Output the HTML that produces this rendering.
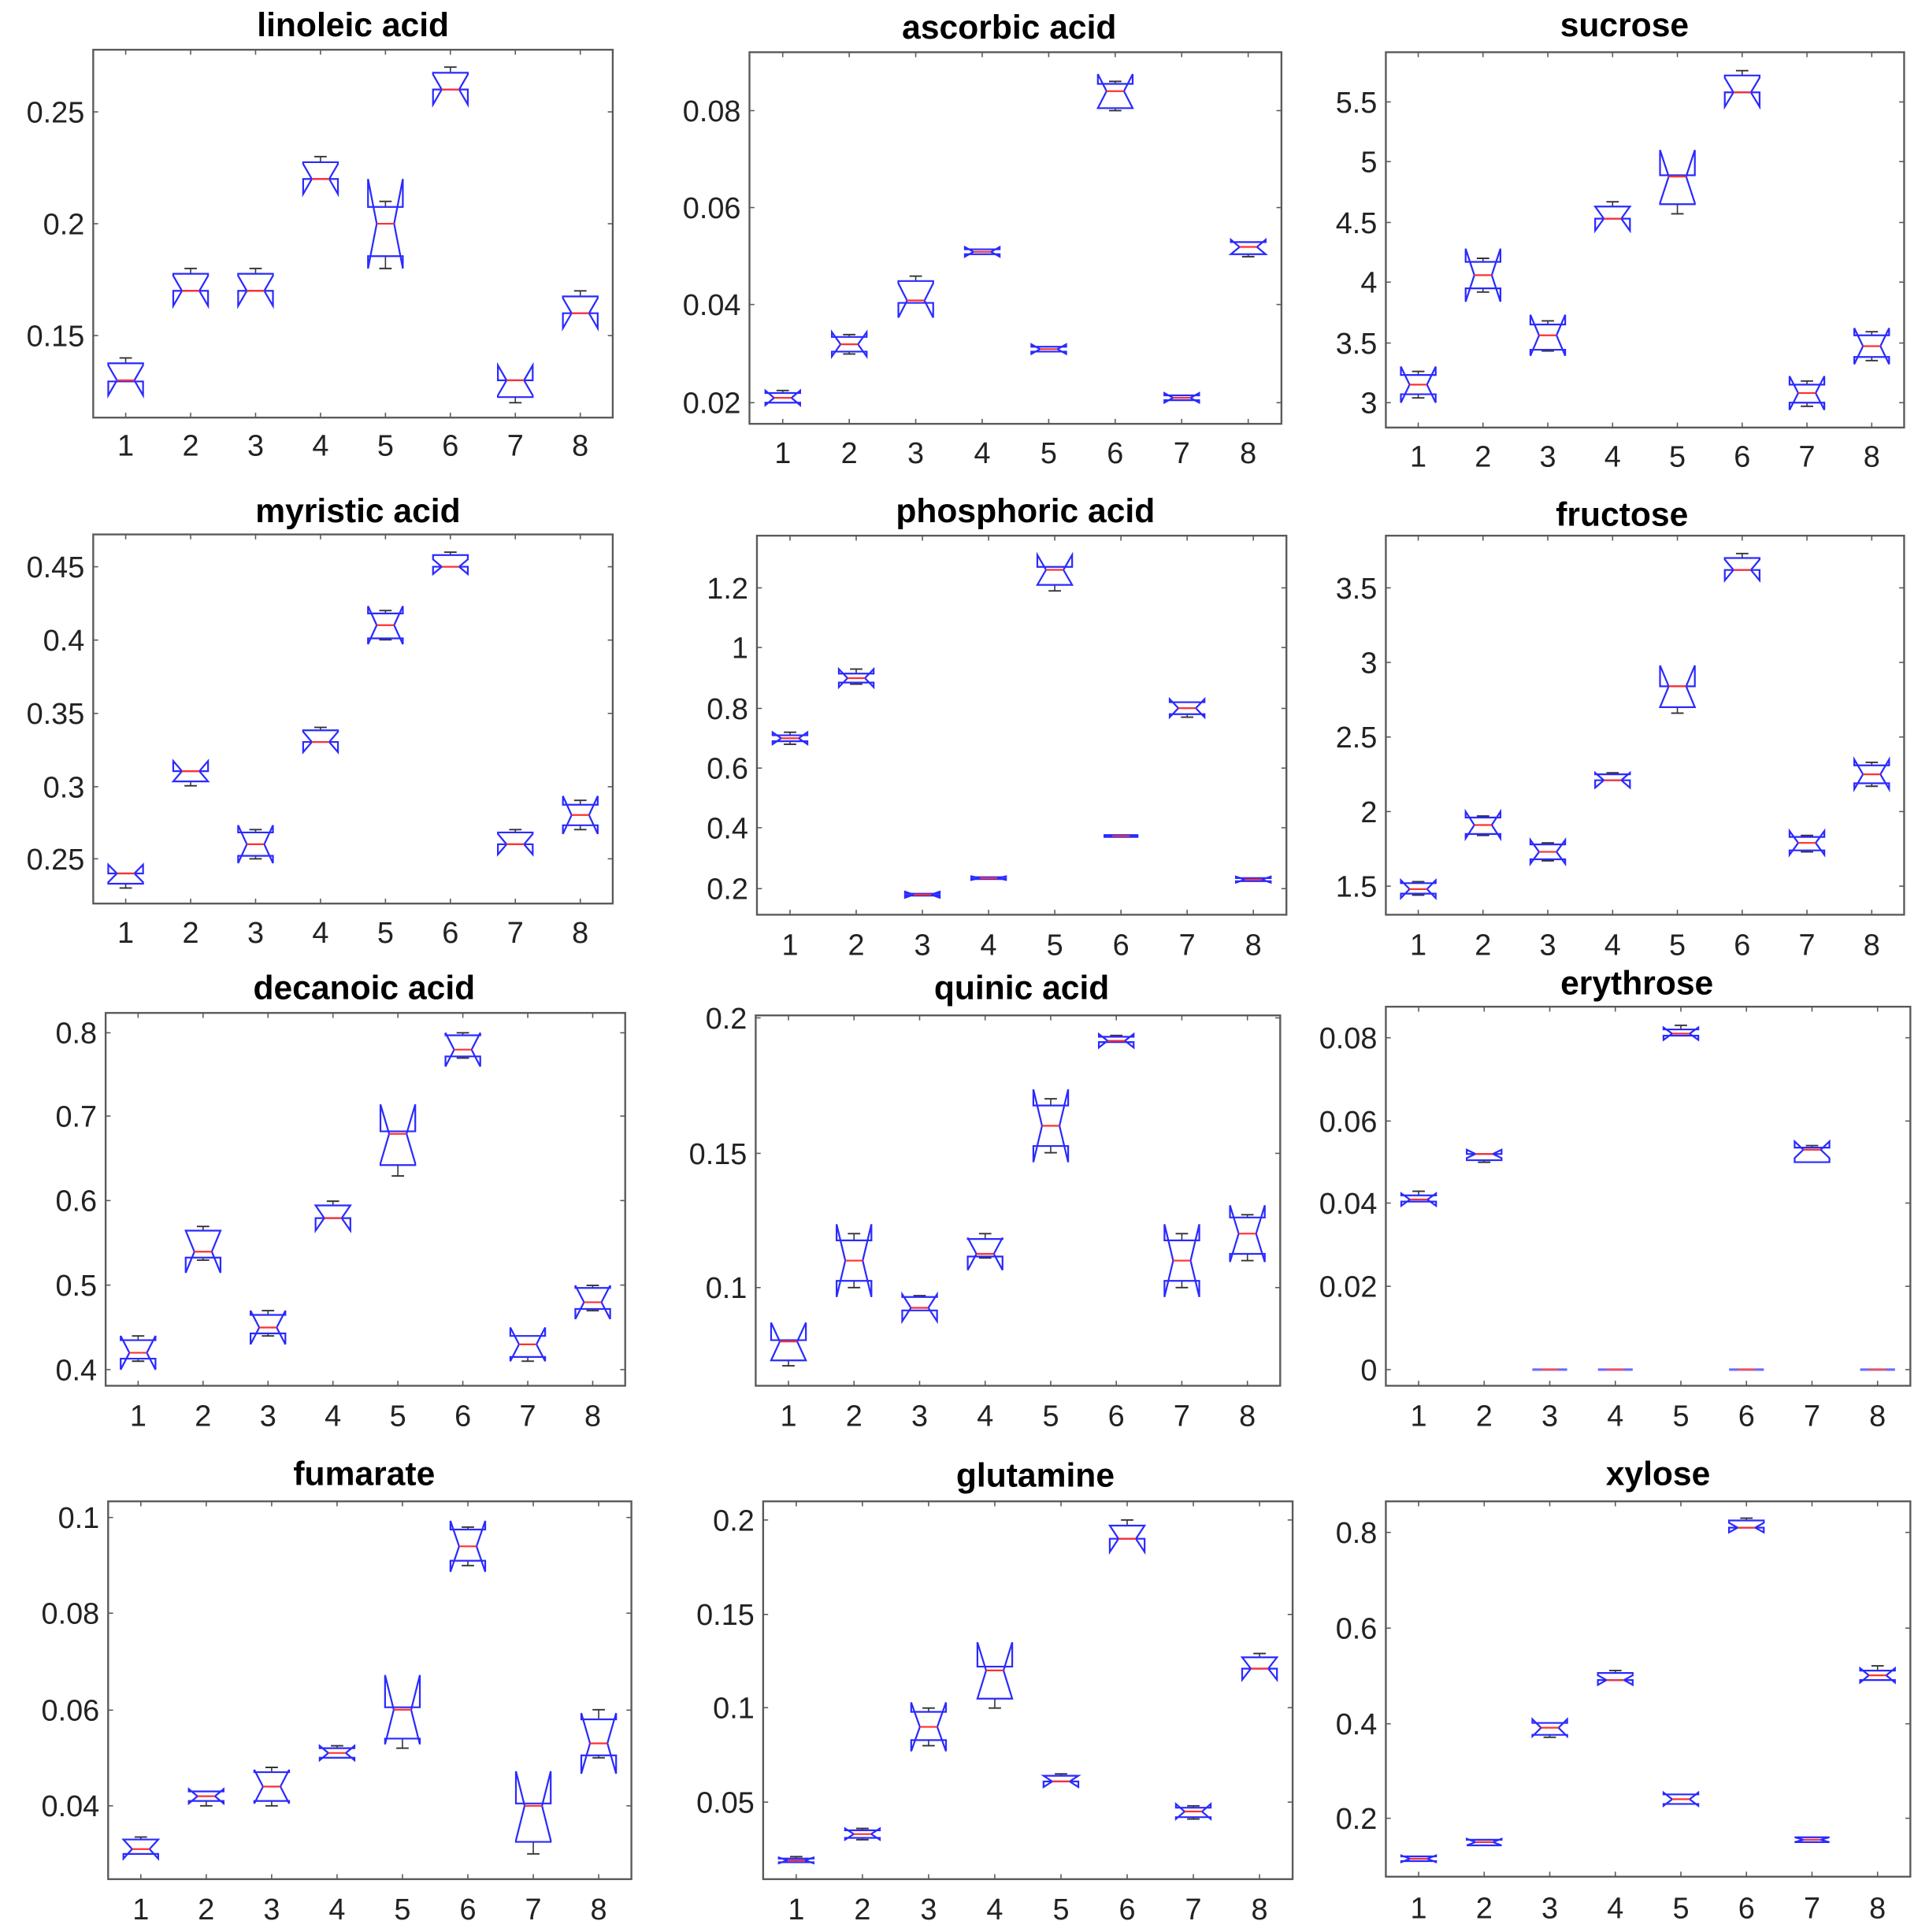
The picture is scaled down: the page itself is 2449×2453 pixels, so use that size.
<!DOCTYPE html>
<html><head><meta charset="utf-8">
<style>html,body{margin:0;padding:0;background:#fff}svg{display:block}</style>
</head><body>
<svg id="s" xmlns="http://www.w3.org/2000/svg" width="2449" height="2453" viewBox="0 0 1552 1554.5"></svg>
<script>
const P=[
{t:"linoleic acid",L:75,R:493,T:40,B:336,tx:284,ty:20,ly:358,ticks:[[0.25,90],[0.2,180],[0.15,270]],lab:["0.25","0.2","0.15"],
d:[[.130,.1295,.1376,.0067,.1295,.140],[.170,.170,.1776,.0067,.170,.18],[.170,.170,.1776,.0067,.170,.18],[.220,.220,.2275,.0067,.220,.23],[.200,.1855,.2075,.02,.18,.21],[.260,.260,.2675,.0067,.26,.27],[.130,.1225,.130,.0067,.12,.13],[.160,.160,.1675,.0067,.16,.17]]},
{t:"ascorbic acid",L:603,R:1031,T:42,B:341,tx:812,ty:22,ly:364,ticks:[[.08,89],[.06,167],[.04,245],[.02,324]],lab:["0.08","0.06","0.04","0.02"],
d:[[.021,.020,.022,.0015,.020,.0225],[.032,.0305,.0335,.0025,.030,.034],[.041,.0405,.045,.0035,.0405,.046],[.051,.0505,.0515,.001,.0505,.0515],[.031,.0305,.0315,.001,.0305,.0315],[.084,.0805,.0855,.0035,.080,.086],[.021,.0205,.0215,.001,.0205,.0215],[.052,.0505,.053,.0015,.050,.053]]},
{t:"sucrose",L:1115,R:1532,T:42,B:344,tx:1307,ty:20,ly:367,ticks:[[5.5,82],[5,130],[4.5,179],[4,227],[3.5,276],[3,324]],lab:["5.5","5","4.5","4","3.5","3"],
d:[[3.15,3.07,3.23,.15,3.04,3.26],[4.06,3.95,4.17,.22,3.92,4.2],[3.56,3.44,3.65,.17,3.43,3.68],[4.53,4.53,4.63,.1,4.53,4.67],[4.88,4.65,4.89,.22,4.57,4.89],[5.58,5.58,5.72,.12,5.58,5.76],[3.08,3.0,3.15,.14,2.97,3.18],[3.47,3.38,3.56,.15,3.35,3.59]]},
{t:"myristic acid",L:75,R:493,T:430,B:727,tx:288,ty:411,ly:750,ticks:[[.45,456],[.4,515],[.35,574],[.3,633],[.25,691]],lab:["0.45","0.4","0.35","0.3","0.25"],
d:[[.24,.233,.24,.006,.23,.24],[.31,.303,.31,.007,.30,.31],[.26,.252,.268,.013,.25,.27],[.33,.33,.338,.007,.33,.34],[.41,.401,.418,.013,.40,.42],[.45,.45,.458,.005,.45,.46],[.26,.26,.268,.007,.26,.27],[.28,.273,.287,.013,.27,.29]]},
{t:"phosphoric acid",L:609,R:1035,T:431,B:736,tx:825,ty:411,ly:760,ticks:[[1.2,473],[1,521],[.8,570],[.6,618],[.4,666],[.2,715]],lab:["1.2","1","0.8","0.6","0.4","0.2"],
d:[[.70,.69,.71,.02,.68,.72],[.90,.885,.915,.03,.88,.93],[.18,.177,.183,.01,.177,.183],[.235,.232,.238,.006,.232,.238],[1.26,1.21,1.27,.05,1.19,1.27],[.375,.372,.378,.003,.372,.378],[.80,.78,.82,.03,.77,.82],[.23,.225,.235,.01,.225,.235]]},
{t:"fructose",L:1115,R:1532,T:431,B:736,tx:1305,ty:414,ly:760,ticks:[[3.5,473],[3,533],[2.5,593],[2,653],[1.5,713]],lab:["3.5","3","2.5","2","1.5"],
d:[[1.48,1.45,1.52,.06,1.44,1.53],[1.91,1.85,1.96,.09,1.84,1.97],[1.73,1.68,1.78,.08,1.67,1.79],[2.21,2.21,2.25,.05,2.21,2.26],[2.84,2.70,2.84,.14,2.66,2.84],[3.62,3.62,3.70,.07,3.62,3.73],[1.79,1.74,1.83,.08,1.73,1.84],[2.25,2.19,2.31,.1,2.17,2.33]]},
{t:"decanoic acid",L:85,R:503,T:815,B:1115,tx:293,ty:795,ly:1139,ticks:[[.8,831],[.7,898],[.6,966],[.5,1034],[.4,1102]],lab:["0.8","0.7","0.6","0.5","0.4"],
d:[[.42,.413,.435,.02,.41,.44],[.54,.533,.565,.025,.53,.57],[.45,.443,.465,.02,.44,.47],[.58,.58,.595,.015,.58,.60],[.68,.643,.683,.035,.63,.683],[.78,.772,.797,.02,.77,.80],[.43,.415,.44,.02,.41,.44],[.48,.472,.497,.02,.47,.50]]},
{t:"quinic acid",L:608,R:1030,T:817,B:1115,tx:822,ty:795,ly:1139,ticks:[[.2,819],[.15,928],[.1,1036]],lab:["0.2","0.15","0.1"],
d:[[.080,.073,.0805,.007,.071,.0805],[.110,.1025,.1175,.0135,.10,.12],[.0925,.0915,.0965,.005,.0915,.097],[.1125,.1115,.118,.006,.111,.12],[.160,.1525,.1675,.0135,.15,.17],[.1915,.191,.193,.0025,.191,.1935],[.110,.1025,.1175,.0135,.10,.12],[.120,.1125,.126,.0105,.11,.127]]},
{t:"erythrose",L:1115,R:1537,T:810,B:1115,tx:1317,ty:791,ly:1139,ticks:[[.08,835],[.06,902],[.04,968],[.02,1035],[0,1102]],lab:["0.08","0.06","0.04","0.02","0"],
d:[[.041,.0405,.042,.0015,.0405,.043],[.052,.0505,.052,.001,.050,.052],[0,0,0,0,0,0],[0,0,0,0,0,0],[.081,.0805,.082,.0015,.0805,.083],[0,0,0,0,0,0],[.053,.050,.0535,.002,.050,.054],[0,0,0,0,0,0]]},
{t:"fumarate",L:87,R:508,T:1208,B:1512,tx:293,ty:1186,ly:1536,ticks:[[.1,1221],[.08,1298],[.06,1376],[.04,1453]],lab:["0.1","0.08","0.06","0.04"],
d:[[.031,.030,.033,.002,.030,.0335],[.042,.041,.043,.0015,.040,.043],[.044,.041,.047,.0035,.040,.048],[.051,.050,.052,.0015,.050,.0525],[.060,.054,.0605,.0072,.052,.0605],[.094,.091,.0975,.0053,.090,.098],[.040,.0325,.0405,.0072,.030,.0405],[.053,.0505,.058,.0063,.050,.060]]},
{t:"glutamine",L:614,R:1040,T:1208,B:1512,tx:833,ty:1187,ly:1536,ticks:[[.2,1223],[.15,1299],[.1,1374],[.05,1450]],lab:["0.2","0.15","0.1","0.05"],
d:[[.019,.018,.020,.0015,.018,.021],[.033,.031,.035,.003,.030,.036],[.090,.083,.098,.013,.080,.10],[.120,.105,.122,.015,.10,.122],[.061,.061,.064,.003,.061,.065],[.190,.190,.197,.007,.190,.20],[.045,.042,.047,.004,.041,.048],[.121,.121,.127,.006,.121,.129]]},
{t:"xylose",L:1115,R:1537,T:1208,B:1510,tx:1334,ty:1186,ly:1535,ticks:[[.8,1233],[.6,1310],[.4,1387],[.2,1463]],lab:["0.8","0.6","0.4","0.2"],
d:[[.115,.11,.12,.007,.11,.12],[.15,.143,.155,.007,.143,.155],[.39,.375,.40,.018,.37,.40],[.49,.49,.505,.01,.49,.51],[.24,.23,.25,.014,.23,.25],[.81,.81,.825,.01,.81,.83],[.155,.15,.16,.005,.15,.16],[.50,.49,.51,.015,.49,.52]]}
];
let o="";
const F='font-family="Liberation Sans, Arial, sans-serif"';
for(const p of P){
  const [v0,y0]=p.ticks[0],[v1,y1]=p.ticks[p.ticks.length-1];
  const Y=v=>y0+(v-v0)*(y1-y0)/(v1-v0);
  const W=p.R-p.L;
  o+=`<text x="${p.tx}" y="${p.ty+9}" text-anchor="middle" ${F} font-weight="bold" font-size="27" fill="#000">${p.t}</text>`;
  o+=`<rect x="${p.L}" y="${p.T}" width="${W}" height="${p.B-p.T}" fill="none" stroke="#5a5a5a" stroke-width="1.5"/>`;
  p.ticks.forEach((t,i)=>{
    o+=`<line x1="${p.L}" x2="${p.L+4}" y1="${t[1]}" y2="${t[1]}" stroke="#5a5a5a"/><line x1="${p.R-4}" x2="${p.R}" y1="${t[1]}" y2="${t[1]}" stroke="#5a5a5a"/>`;
    o+=`<text x="${p.L-7}" y="${t[1]+8.5}" text-anchor="end" ${F} font-size="24" fill="#222">${p.lab[i]}</text>`;
  });
  for(let i=1;i<=8;i++){
    const x=p.L+(i-0.5)*W/8;
    o+=`<line x1="${x}" x2="${x}" y1="${p.B}" y2="${p.B-4}" stroke="#5a5a5a"/><line x1="${x}" x2="${x}" y1="${p.T}" y2="${p.T+4}" stroke="#5a5a5a"/>`;
    o+=`<text x="${x}" y="${p.ly+8.5}" text-anchor="middle" ${F} font-size="24" fill="#222">${i}</text>`;
    const [m,q1,q3,n,wl,wh]=p.d[i-1];
    const w=14,hw=7;
    if(n===0){
      o+=`<line x1="${x-w}" x2="${x+w}" y1="${Y(m)}" y2="${Y(m)}" stroke="#6b6bff" stroke-width="2"/><line x1="${x-hw}" x2="${x+hw}" y1="${Y(m)}" y2="${Y(m)}" stroke="#ff5050" stroke-width="1.5"/>`;
      continue;
    }
    const pts=[[x-w,q1],[x-w,m-n],[x-hw,m],[x-w,m+n],[x-w,q3],[x+w,q3],[x+w,m+n],[x+hw,m],[x+w,m-n],[x+w,q1]].map(a=>a[0].toFixed(1)+","+Y(a[1]).toFixed(1)).join(" ");
    if(wh>q3){o+=`<line x1="${x}" x2="${x}" y1="${Y(q3)}" y2="${Y(wh)}" stroke="#333" stroke-width="1"/><line x1="${x-5}" x2="${x+5}" y1="${Y(wh)}" y2="${Y(wh)}" stroke="#333" stroke-width="1.2"/>`;}
    if(wl<q1){o+=`<line x1="${x}" x2="${x}" y1="${Y(q1)}" y2="${Y(wl)}" stroke="#333" stroke-width="1"/><line x1="${x-5}" x2="${x+5}" y1="${Y(wl)}" y2="${Y(wl)}" stroke="#333" stroke-width="1.2"/>`;}
    o+=`<polygon points="${pts}" fill="none" stroke="#2a2aff" stroke-width="1.4"/>`;
    o+=`<line x1="${x-hw}" x2="${x+hw}" y1="${Y(m)}" y2="${Y(m)}" stroke="#ff3030" stroke-width="1.4"/>`;
  }
}
document.getElementById("s").innerHTML=o;
</script>
</body></html>
